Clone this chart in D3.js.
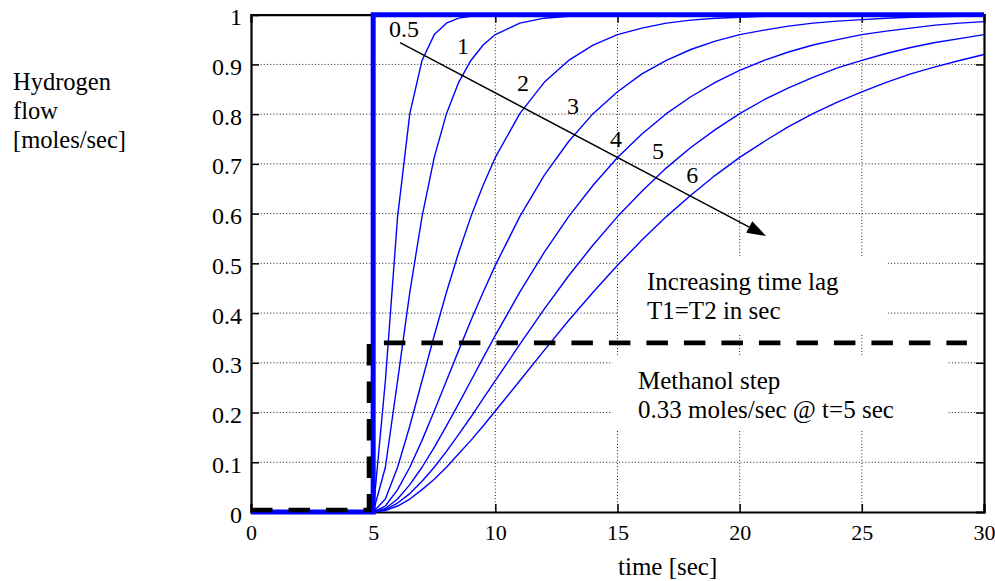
<!DOCTYPE html>
<html>
<head>
<meta charset="utf-8">
<script src="https://cdn.jsdelivr.net/npm/d3@7"></script>
<style>
  html, body { margin: 0; padding: 0; background: #fff; }
  svg text { font-family: "Liberation Serif", "Times New Roman", serif; fill: #000; }
</style>
</head>
<body>
<svg id="chart" width="995" height="581"></svg>
<script>
// ---------- data ----------
const xTicks = [0, 5, 10, 15, 20, 25, 30];
const yTicks = [0, 0.1, 0.2, 0.3, 0.4, 0.5, 0.6, 0.7, 0.8, 0.9, 1];
const yTickLabels = ["0", "0.1", "0.2", "0.3", "0.4", "0.5", "0.6", "0.7", "0.8", "0.9", "1"];

// time samples [sec]
const time = [5, 5.5, 6, 6.5, 7, 7.5, 8, 8.5, 9, 9.5, 10, 11, 12, 13, 14, 15, 16, 17, 18, 19, 20, 21, 22, 23, 24, 25, 26, 27, 28, 29, 30];

// hydrogen flow responses for time lags T1=T2 (sec)
const lagNames = ["0.5", "1", "2", "3", "4", "5", "6"];
const lag05 = [0, 0.264, 0.594, 0.801, 0.908, 0.960, 0.983, 0.993, 0.997, 0.999, 1, 1, 1, 1, 1, 1, 1, 1, 1, 1, 1, 1, 1, 1, 1, 1, 1, 1, 1, 1, 1];
const lag1  = [0, 0.090, 0.264, 0.442, 0.594, 0.713, 0.801, 0.864, 0.908, 0.939, 0.960, 0.983, 0.993, 0.997, 0.999, 1, 1, 1, 1, 1, 1, 1, 1, 1, 1, 1, 1, 1, 1, 1, 1];
const lag2  = [0, 0.026, 0.090, 0.173, 0.264, 0.355, 0.442, 0.522, 0.594, 0.657, 0.713, 0.801, 0.864, 0.908, 0.939, 0.960, 0.973, 0.983, 0.989, 0.993, 0.995, 0.997, 0.998, 0.999, 0.999, 1, 1, 1, 1, 1, 1];
const lag3  = [0, 0.012, 0.045, 0.090, 0.144, 0.203, 0.264, 0.325, 0.385, 0.442, 0.496, 0.594, 0.677, 0.745, 0.801, 0.845, 0.881, 0.908, 0.930, 0.947, 0.960, 0.969, 0.977, 0.983, 0.987, 0.990, 0.993, 0.995, 0.996, 0.997, 0.998];
const lag4  = [0, 0.007, 0.026, 0.055, 0.090, 0.130, 0.173, 0.218, 0.264, 0.310, 0.355, 0.442, 0.522, 0.594, 0.657, 0.713, 0.760, 0.801, 0.835, 0.864, 0.888, 0.908, 0.925, 0.939, 0.950, 0.960, 0.967, 0.973, 0.979, 0.983, 0.986];
const lag5  = [0, 0.005, 0.018, 0.037, 0.062, 0.090, 0.122, 0.156, 0.191, 0.228, 0.264, 0.337, 0.408, 0.475, 0.537, 0.594, 0.645, 0.692, 0.733, 0.769, 0.801, 0.829, 0.853, 0.874, 0.893, 0.908, 0.922, 0.934, 0.944, 0.952, 0.960];
const lag6  = [0, 0.003, 0.012, 0.026, 0.045, 0.066, 0.090, 0.117, 0.144, 0.173, 0.203, 0.264, 0.325, 0.385, 0.442, 0.496, 0.547, 0.594, 0.637, 0.677, 0.713, 0.745, 0.775, 0.801, 0.824, 0.845, 0.864, 0.881, 0.895, 0.908, 0.920];

// ideal (no lag) hydrogen step
const stepT = [0, 5, 5, 30];
const stepV = [0, 0, 1, 1];

// methanol step input
const methT = [0, 4.83, 4.83, 29.3];
const methV = [0.004, 0.004, 0.34, 0.34];

// ---------- layout ----------
const svg = d3.select("#chart");
const x = d3.scaleLinear().domain([0, 30]).range([251, 984]);
const y = d3.scaleLinear().domain([0, 1]).range([512, 14.7]);
const font = 'font-family:"Liberation Serif","Times New Roman",serif';

svg.append("rect").attr("width", 995).attr("height", 581).attr("fill", "#fff");

// grid
const grid = svg.append("g").attr("stroke", "#222").attr("stroke-width", 1).attr("stroke-dasharray", "1,2.2");
grid.selectAll("line.gx").data(xTicks.slice(1, -1)).join("line")
  .attr("x1", d => x(d)).attr("x2", d => x(d)).attr("y1", y(0)).attr("y2", y(1));
grid.selectAll("line.gy").data(yTicks.slice(1, -1)).join("line")
  .attr("x1", x(0)).attr("x2", x(30)).attr("y1", d => y(d)).attr("y2", d => y(d));

// white annotation boxes hide grid
svg.append("rect").attr("x", x(15.05)).attr("y", y(0.515)).attr("width", x(26.05) - x(15.05)).attr("height", y(0.36) - y(0.515)).attr("fill", "#fff");
svg.append("rect").attr("x", x(14.8)).attr("y", y(0.315)).attr("width", x(28.5) - x(14.8)).attr("height", y(0.165) - y(0.315)).attr("fill", "#fff");

// axes (D3 axes, ticks inward)
const axB = svg.append("g").attr("transform", `translate(0,${y(0)})`)
  .call(d3.axisBottom(x).tickValues(xTicks).tickSize(-8).tickPadding(12).tickFormat(d3.format("d")));
const axT = svg.append("g").attr("transform", `translate(0,${y(1)})`)
  .call(d3.axisTop(x).tickValues(xTicks).tickSize(-8).tickFormat(""));
const axL = svg.append("g").attr("transform", `translate(${x(0)},0)`)
  .call(d3.axisLeft(y).tickValues(yTicks).tickSize(-8).tickPadding(9).tickFormat((d, i) => yTickLabels[i]));
const axR = svg.append("g").attr("transform", `translate(${x(30)},0)`)
  .call(d3.axisRight(y).tickValues(yTicks).tickSize(-8).tickFormat(""));
[axB, axT, axL, axR].forEach(a => {
  a.select(".domain").attr("stroke", "#000").attr("stroke-width", 2.2);
  a.selectAll(".tick line").attr("stroke", "#000").attr("stroke-width", 1.5);
  a.selectAll("text").attr("fill", "#000").attr("style", font).attr("font-family", null);
});
axB.selectAll("text").attr("font-size", 22).attr("dy", "0.71em");
axL.selectAll("text").attr("font-size", 24).attr("dy", "0.42em");
[axT, axR].forEach(a => a.selectAll(".tick line").filter((d) => d === 0 || d === 1 || d === 30).remove());

// lag response curves
const line = d3.line().x(d => x(d[0])).y(d => y(d[1]));
const lagSeries = [lag05, lag1, lag2, lag3, lag4, lag5, lag6];
svg.append("g").selectAll("path").data(lagSeries).join("path")
  .attr("d", vals => line(time.map((t, i) => [t, vals[i]])))
  .attr("fill", "none").attr("stroke", "#0000ff").attr("stroke-width", 1.4).attr("stroke-linejoin", "round");

// thick ideal step
svg.append("path").attr("d", line(stepT.map((t, i) => [t, stepV[i]])))
  .attr("fill", "none").attr("stroke", "#0000ff").attr("stroke-width", 5);

// methanol dashed step
svg.append("path").attr("d", line(methT.map((t, i) => [t, methV[i]])))
  .attr("fill", "none").attr("stroke", "#000").attr("stroke-width", 4.6)
  .attr("stroke-dasharray", "21.5,16");

// curve labels (data-coordinate anchors)
const labelAt = [[5.65, 0.955], [8.43, 0.921], [10.89, 0.846], [12.93, 0.800], [14.69, 0.734], [16.41, 0.710], [17.81, 0.661]];
svg.append("g").selectAll("text").data(lagNames).join("text")
  .attr("x", (d, i) => x(labelAt[i][0])).attr("y", (d, i) => y(labelAt[i][1]))
  .attr("font-size", 24).text(d => d);

// arrow
const arrowFrom = [6.1, 0.944], arrowTo = [21.08, 0.555];
const x1 = x(arrowFrom[0]), y1 = y(arrowFrom[1]), x2 = x(arrowTo[0]), y2 = y(arrowTo[1]);
const ang = Math.atan2(y2 - y1, x2 - x1);
const hl = 19, hw = 6.5;
const bx = x2 - hl * Math.cos(ang), by = y2 - hl * Math.sin(ang);
svg.append("line").attr("x1", x1).attr("y1", y1).attr("x2", bx).attr("y2", by)
  .attr("stroke", "#000").attr("stroke-width", 1.4);
svg.append("path")
  .attr("d", `M${x2},${y2}L${bx - hw * Math.sin(ang)},${by + hw * Math.cos(ang)}L${bx + hw * Math.sin(ang)},${by - hw * Math.cos(ang)}Z`)
  .attr("fill", "#000");

// annotation texts
const ann1 = ["Increasing time lag", "T1=T2 in sec"];
const ann2 = ["Methanol step", "0.33 moles/sec @ t=5 sec"];
svg.append("g").selectAll("text").data(ann1).join("text")
  .attr("x", 647).attr("y", (d, i) => 290 + i * 28.5).attr("font-size", 25).text(d => d);
svg.append("g").selectAll("text").data(ann2).join("text")
  .attr("x", 638).attr("y", (d, i) => 389 + i * 29).attr("font-size", 25).text(d => d);

// axis titles
svg.append("text").attr("x", 618).attr("y", 575).attr("font-size", 25).text("time [sec]");
svg.append("g").selectAll("text").data(["Hydrogen", "flow", "[moles/sec]"]).join("text")
  .attr("x", 13).attr("y", (d, i) => 90 + i * 29).attr("font-size", 24.5).text(d => d);
</script>
</body>
</html>
